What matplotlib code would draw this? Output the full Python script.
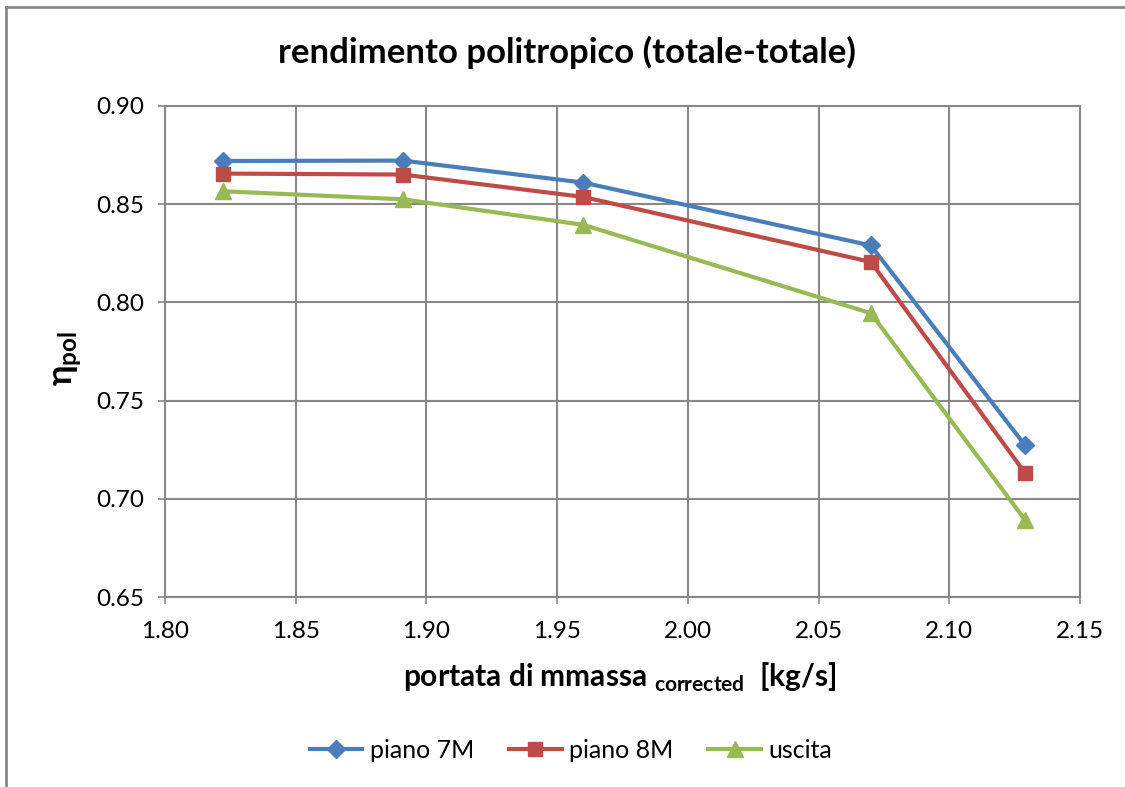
import matplotlib
matplotlib.use("Agg")
import matplotlib.pyplot as plt
from matplotlib.lines import Line2D

plt.rcParams['font.family'] = ['Lato', 'DejaVu Sans']
plt.rcParams['mathtext.fontset'] = 'custom'
plt.rcParams['mathtext.rm'] = 'Lato'
plt.rcParams['mathtext.bf'] = 'Lato:bold'

# data
portata = [1.822, 1.891, 1.960, 2.070, 2.129]
piano_7M = [0.8720, 0.8722, 0.8610, 0.8290, 0.7272]
piano_8M = [0.8656, 0.8651, 0.8537, 0.8206, 0.7131]
uscita = [0.8566, 0.8525, 0.8395, 0.7945, 0.6892]

series = [
    ("piano 7M", piano_7M, "#4A7EBB", "D", 9),
    ("piano 8M", piano_8M, "#BE4B48", "s", 10),
    ("uscita", uscita, "#98B954", "^", 11),
]

W, H = 1125, 787
fig = plt.figure(figsize=(W / 100, H / 100), dpi=100)
ax = fig.add_axes([165 / W, 1 - 597 / H, (1080 - 165) / W, (597 - 106) / H])

for name, vals, col, mk, ms in series:
    ax.plot(portata, vals, color=col, lw=3, marker=mk, markersize=ms,
            markeredgecolor=col, label=name)

ax.set_xlim(1.80, 2.15)
ax.set_ylim(0.65, 0.90)
ax.set_xticks([1.80, 1.85, 1.90, 1.95, 2.00, 2.05, 2.10, 2.15])
ax.set_yticks([0.65, 0.70, 0.75, 0.80, 0.85, 0.90])
ax.xaxis.set_major_formatter(matplotlib.ticker.FormatStrFormatter('%.2f'))
ax.yaxis.set_major_formatter(matplotlib.ticker.FormatStrFormatter('%.2f'))

grid_col = "#888888"
ax.grid(True, color=grid_col, lw=1.5)
ax.set_axisbelow(True)
for s in ax.spines.values():
    s.set_color(grid_col)
    s.set_linewidth(1.5)
ax.tick_params(direction='out', length=5, width=1.2, color=grid_col,
               labelsize=17.5, pad=12, labelcolor='black')
ax.tick_params(axis='y', pad=10)

fig.text(567 / W, 1 - 52 / H, "rendimento politropico (totale-totale)",
         ha='center', va='center', fontsize=25, fontweight='bold')
fig.text(620 / W, 1 - 677 / H,
         r"portata di mmassa $_{\mathbf{corrected}}$  [kg/s]",
         ha='center', va='center', fontsize=21.5, fontweight='bold')
fig.text(68 / W, 1 - 358 / H, r"$\mathbf{\eta_{pol}}$", rotation=90,
         ha='center', va='center', fontsize=25, fontweight='bold')

fig.legend(loc='center', bbox_to_anchor=(571 / W, 1 - 750 / H), ncol=3,
           frameon=False, fontsize=18, handlelength=2.1, columnspacing=1.4,
           handletextpad=0.3)

# chart area border (top and left visible)
fig.add_artist(Line2D([6 / W, 6 / W], [0, 1 - 7 / H], transform=fig.transFigure,
                      color=grid_col, lw=2))
fig.add_artist(Line2D([6 / W, 1], [1 - 7 / H, 1 - 7 / H], transform=fig.transFigure,
                      color=grid_col, lw=2))

fig.savefig("out.png", dpi=100)
